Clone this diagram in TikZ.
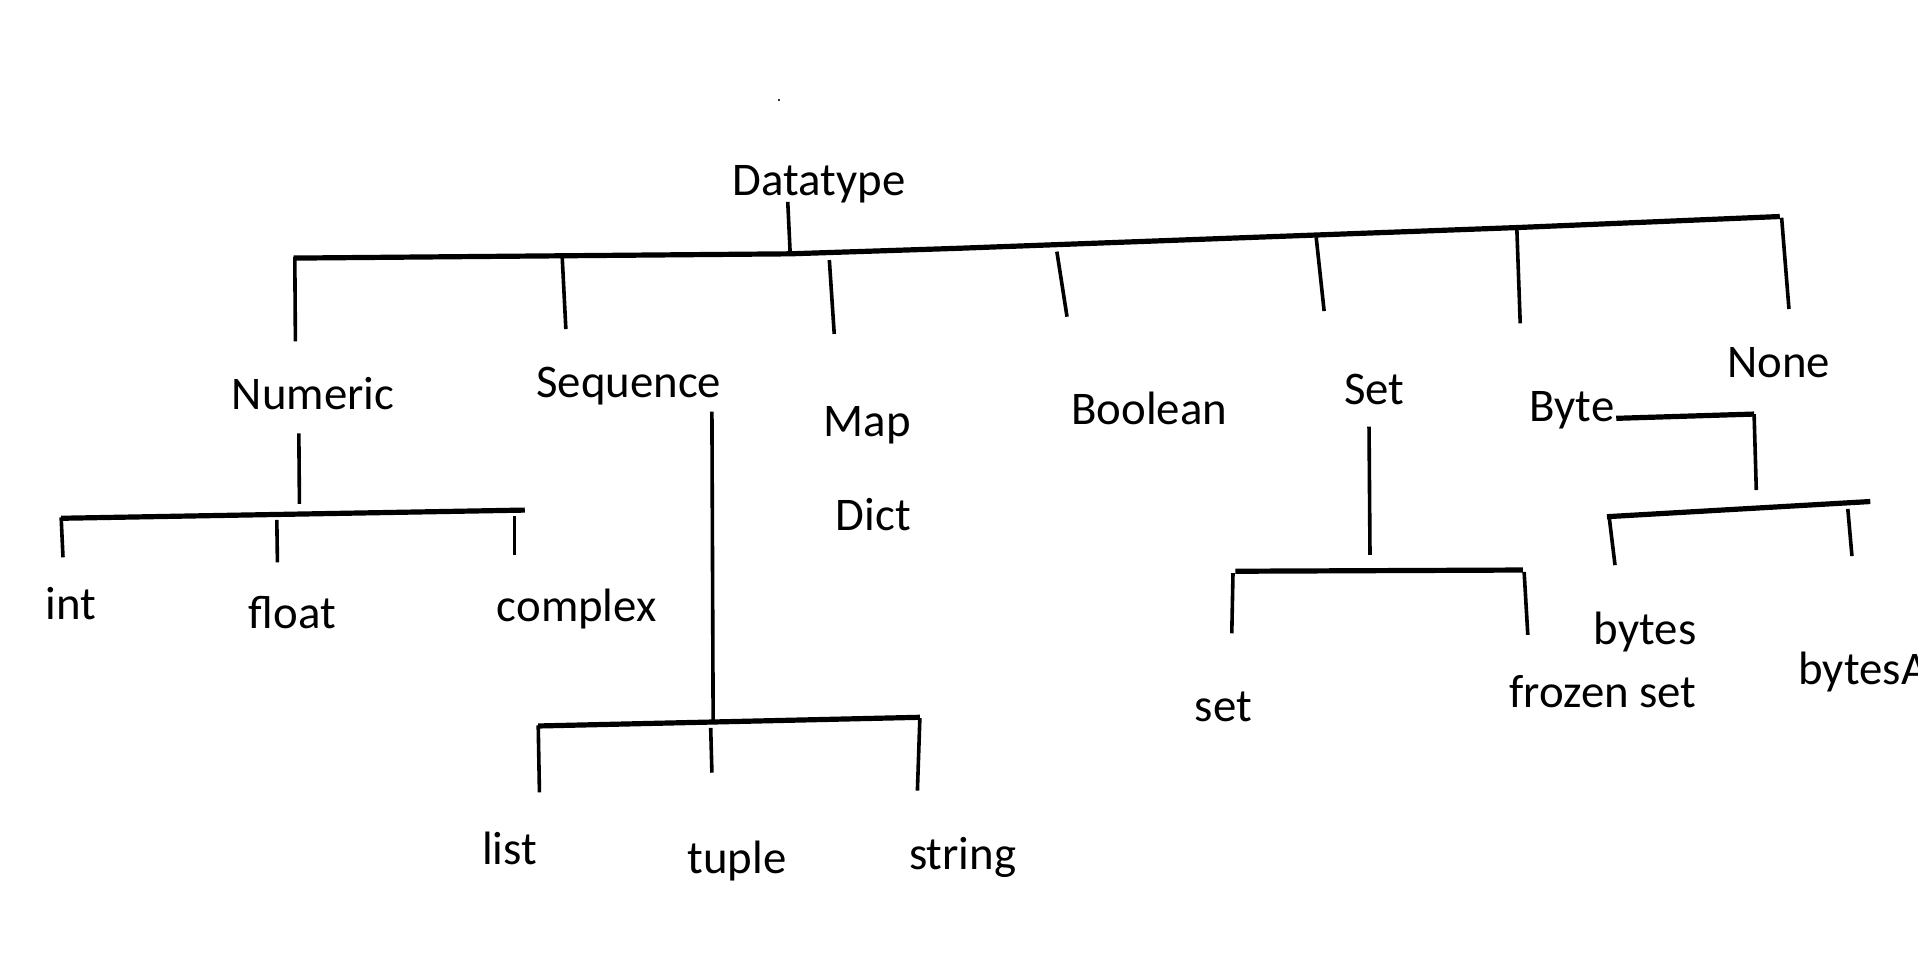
\documentclass[tikz,border=0pt]{standalone}
\usepackage{fontspec}
\setmainfont{Carlito}
\begin{document}
\begin{tikzpicture}[x=0.6116pt,y=-0.6116pt,
  lbl/.style={inner sep=0pt, anchor=base, font=\fontsize{23.4}{28}\selectfont},
  bar/.style={line width=2.6pt, line cap=butt},
  stub/.style={line width=1.8pt, line cap=butt}]
\useasboundingbox (0,0) rectangle (1568,792);
\fill[white] (0,0) rectangle (1568,792);
\clip (0,0) rectangle (1568,792);
\fill[black!80] (636.2,80.6) rectangle (638,82.4);

% labels
\node[lbl] (datatype) at (669.6,159.5) {Datatype};
\node[lbl] (numeric)  at (256,335) {Numeric};
\node[lbl] (sequence) at (514,325) {Sequence};
\node[lbl] (map)      at (709,357) {Map};
\node[lbl] (dict)     at (714,433.3) {Dict};
\node[lbl] (boolean)  at (939.6,347) {Boolean};
\node[lbl] (setT)     at (1123.6,331) {Set};
\node[lbl] (byte)     at (1285,344.7) {Byte};
\node[lbl] (none)     at (1454,309) {None};
\node[lbl] (int)      at (58,506.3) {int};
\node[lbl] (float)    at (239,513.6) {float};
\node[lbl] (complex)  at (471.5,508.2) {complex};
\node[lbl] (list)     at (416.5,706.6) {list};
\node[lbl] (tuple)    at (602.5,714) {tuple};
\node[lbl] (string)   at (787,711) {string};
\node[lbl] (set)      at (1000,590) {set};
\node[lbl] (bytes)    at (1345,526.5) {bytes};
\node[lbl] (frozen)   at (1310.5,578.3) {frozen set};
\node[lbl, anchor=base west] (bytesa) at (1470,559.2) {bytesA};

% main bar
\coordinate (m0) at (240,211);
\coordinate (m1) at (646,207.5);
\coordinate (m2) at (783,203);
\coordinate (m3) at (1241,186);
\coordinate (m4) at (1455,177);
\draw[bar] (m0) -- (m1) -- (m2) -- (m3) -- (m4);
\coordinate (dtop) at (644,165);
\draw[stub] (dtop) -- (m1);

% main stubs
\coordinate (s1a) at (241,210); \coordinate (s1b) at (241.5,279);
\coordinate (s2a) at (459.6,210); \coordinate (s2b) at (462.6,269);
\coordinate (s3a) at (678,212.6); \coordinate (s3b) at (682,273);
\coordinate (s4a) at (864,205.7); \coordinate (s4b) at (872.3,258.9);
\coordinate (s5a) at (1076,194); \coordinate (s5b) at (1082.5,254.3);
\coordinate (s6a) at (1240,185.8); \coordinate (s6b) at (1242.8,264.3);
\coordinate (s7a) at (1456.5,178); \coordinate (s7b) at (1462.5,252.6);
\foreach \i in {1,...,7} \draw[stub] (s\i a) -- (s\i b);

% numeric subtree
\coordinate (n0) at (244.3,354.3); \coordinate (n1) at (244.8,412);
\draw[stub] (n0) -- (n1);
\coordinate (nb0) at (50,423.7); \coordinate (nb1) at (429,417);
\draw[bar] (nb0) -- (nb1);
\coordinate (na1) at (50,423); \coordinate (na2) at (51.5,455.6);
\coordinate (nc1) at (226.3,425); \coordinate (nc2) at (226.8,459.7);
\coordinate (nd1) at (420.5,422); \coordinate (nd2) at (420.5,453.7);
\draw[stub] (na1) -- (na2);
\draw[stub] (nc1) -- (nc2);
\draw[stub] (nd1) -- (nd2);

% sequence subtree
\coordinate (q0) at (582,336.5); \coordinate (q1) at (583,590);
\draw[stub] (q0) -- (q1);
\coordinate (qb0) at (440,593.5); \coordinate (qb1) at (752,586.4);
\draw[bar] (qb0) -- (qb1);
\coordinate (qa1) at (440,593); \coordinate (qa2) at (441,647.7);
\coordinate (qc1) at (581,595); \coordinate (qc2) at (582,631.7);
\coordinate (qd1) at (752,587); \coordinate (qd2) at (750,646.4);
\draw[stub] (qa1) -- (qa2);
\draw[stub] (qc1) -- (qc2);
\draw[stub] (qd1) -- (qd2);

% set subtree
\coordinate (t0) at (1119.2,348.8); \coordinate (t1) at (1120,453.7);
\draw[stub] (t0) -- (t1);
\coordinate (tb0) at (1010,467); \coordinate (tb1) at (1245,466);
\draw[bar] (tb0) -- (tb1);
\coordinate (ta1) at (1008,468.5); \coordinate (ta2) at (1007,517.7);
\coordinate (tc1) at (1246,467.5); \coordinate (tc2) at (1249,519);
\draw[stub] (ta1) -- (ta2);
\draw[stub] (tc1) -- (tc2);

% byte subtree
\coordinate (y0) at (1321.3,342); \coordinate (y1) at (1434,338.5);
\coordinate (y2) at (1435.8,400.6);
\draw[bar] (y0) -- (y1);
\draw[stub] (y1) -- (y2);
\coordinate (yb0) at (1313.7,422.4); \coordinate (yb1) at (1529,410);
\draw[bar] (yb0) -- (yb1);
\coordinate (ya1) at (1315.5,422.5); \coordinate (ya2) at (1320.3,462);
\coordinate (yc1) at (1510.6,416); \coordinate (yc2) at (1514,454.6);
\draw[stub] (ya1) -- (ya2);
\draw[stub] (yc1) -- (yc2);
\end{tikzpicture}
\end{document}
